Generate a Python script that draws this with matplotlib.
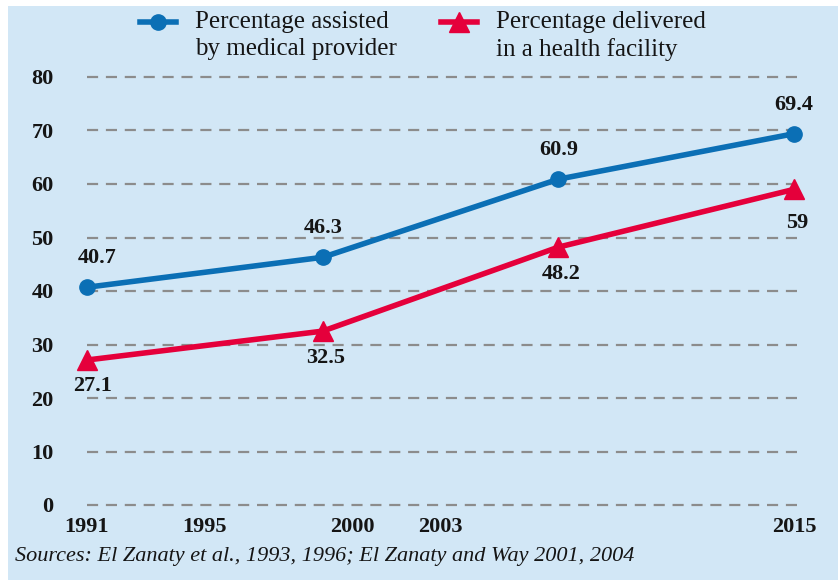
import matplotlib
matplotlib.use("Agg")
import matplotlib.pyplot as plt
from matplotlib.lines import Line2D
from matplotlib.patches import Rectangle

# survey points (years as plotted) and values
years = [1991, 1999, 2007, 2015]
assisted = [40.7, 46.3, 60.9, 69.4]
facility = [27.1, 32.5, 48.2, 59]
tick_years = [1991, 1995, 2000, 2003, 2015]
yticks = [0, 10, 20, 30, 40, 50, 60, 70, 80]
lab_assisted = "Percentage assisted\nby medical provider"
lab_facility = "Percentage delivered\nin a health facility"
source = "Sources: El Zanaty et al., 1993, 1996; El Zanaty and Way 2001, 2004"

BG = "#d2e7f6"; BLUE = "#0b6fb5"; RED = "#e5003b"; GRID = "#8c8c8c"; TXT = "#151515"
plt.rcParams["font.family"] = ["Liberation Serif", "DejaVu Serif"]

fig = plt.figure(figsize=(8.38, 5.80), dpi=100)
fig.patches.append(Rectangle((8/838, 0), 1, 1-6/580, transform=fig.transFigure,
                             facecolor=BG, edgecolor="none", zorder=-10))
ax = fig.add_axes([87/838, 1-505/580, (800-87)/838, (505-77)/580])
ax.set_facecolor("none")
for s in ax.spines.values(): s.set_visible(False)
ax.set_xlim(1991, 2015.2); ax.set_ylim(0, 80)
ax.set_yticks(yticks)
ax.set_yticklabels([str(v) for v in yticks], fontsize=16, color=TXT, fontweight="bold")
ax.set_xticks(tick_years)
ax.set_xticklabels([str(v) for v in tick_years], fontsize=16, color=TXT, fontweight="bold")
ax.tick_params(length=0)
ax.tick_params(axis="y", pad=24)
ax.tick_params(axis="x", pad=9)
ax.grid(axis="y", color=GRID, ls=(0, (5, 3.5)), lw=1.6)
ax.grid(axis="x", visible=False)
for gl in ax.get_ygridlines(): gl.set_clip_on(False)

ax.plot(years, assisted, color=BLUE, lw=4, marker="o", ms=11, clip_on=False, zorder=3)
ax.plot(years, facility, color=RED, lw=4, marker="^", ms=15, clip_on=False, zorder=3)

for i, (x, v) in enumerate(zip(years, assisted)):
    ax.annotate(f"{v:g}", (x, v), xytext=(7 if i == 0 else 0, 21), textcoords="offset points",
                ha="center", va="center", fontsize=16, color=TXT, fontweight="bold")
for i, (x, v) in enumerate(zip(years, facility)):
    ax.annotate(f"{v:g}", (x, v), xytext=(4 if i == 0 else 2, -19 if i < 3 else -24),
                textcoords="offset points", ha="center", va="center", fontsize=16,
                color=TXT, fontweight="bold")

# legend drawn by hand so the handle sits on the first text line
for x0, col, mk, ms, lab in [(140, BLUE, "o", 11, lab_assisted), (441, RED, "^", 15, lab_facility)]:
    fig.add_artist(Line2D([x0/838, (x0+36)/838], [1-22/580]*2, color=col, lw=4,
                          transform=fig.transFigure))
    fig.add_artist(Line2D([(x0+18)/838], [1-22/580], color=col, marker=mk, ms=ms,
                          transform=fig.transFigure))
    fig.text((x0+55)/838, 1-11/580, lab, ha="left", va="top", fontsize=18,
             color=TXT, linespacing=1.3)

fig.text(15/838, 1-556/580, source, ha="left", va="center", fontsize=16,
         style="italic", color=TXT)

fig.savefig("out.png", dpi=100)
